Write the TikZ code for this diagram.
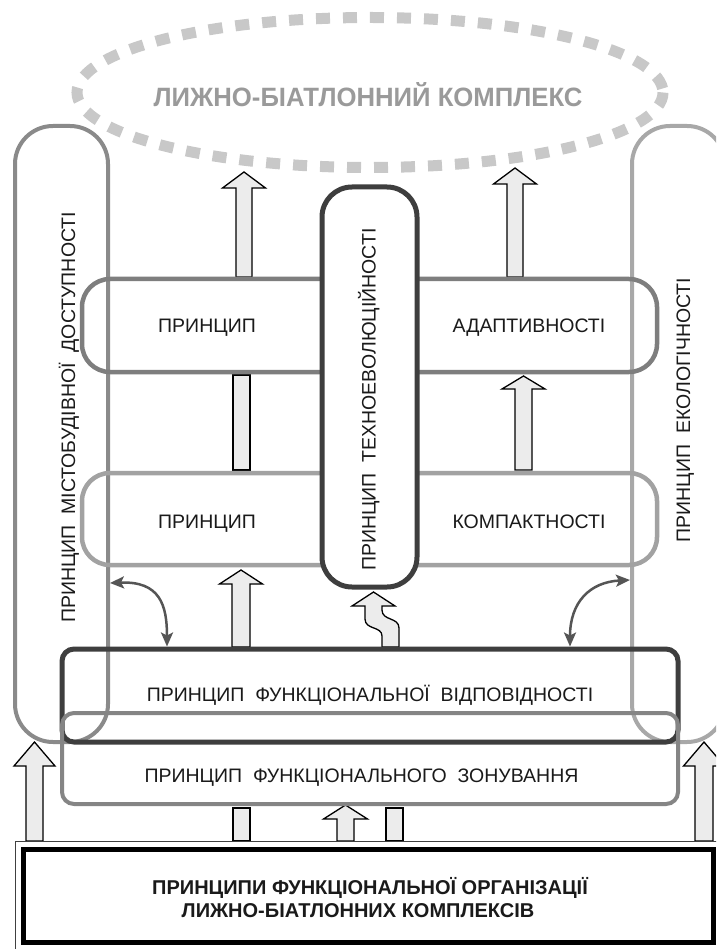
\documentclass[tikz,border=0pt]{standalone}
\usepackage{fontspec}
\setmainfont{Liberation Sans}
\newfontfamily\titlefont[FakeStretch=0.97]{Liberation Sans}
\usetikzlibrary{arrows.meta,calc}
\definecolor{dashgray}{HTML}{C8C8C8}
\definecolor{titlegray}{HTML}{9A9A9A}
\definecolor{leftgray}{HTML}{8A8A8A}
\definecolor{rightgray}{HTML}{A8A8A8}
\definecolor{bandA}{HTML}{7E7E7E}
\definecolor{bandB}{HTML}{A2A2A2}
\definecolor{darkline}{HTML}{3E3E3E}
\definecolor{zongray}{HTML}{858585}
\definecolor{arrfill}{HTML}{ECECEC}
\definecolor{curvegray}{HTML}{555555}
\definecolor{txt}{HTML}{1A1A1A}
\newcommand\fatup[5]{%
  \draw[fat] let \p1=(#1), \p2=(#2) in
    (\x1-#4,\y1) -- (\x1-#4,\y2-#3) -- (\x1-#5,\y2-#3) -- (\x1,\y2) --
    (\x1+#5,\y2-#3) -- (\x1+#4,\y2-#3) -- (\x1+#4,\y1) -- cycle;}
\begin{document}
\begin{tikzpicture}[x=1pt,y=-1pt,
  lbl/.style={font=\fontsize{19.5}{23}\selectfont, text=txt, inner sep=0pt, anchor=base},
  vlbl/.style={lbl, rotate=90},
  tallbox/.style={rounded corners=38, line width=4, minimum width=93, minimum height=616, inner sep=0pt},
  band/.style={rounded corners=28, line width=4.5, minimum width=575, inner sep=0pt},
  flatbox/.style={rounded corners=12, minimum width=616, inner sep=0pt},
  fat/.style={draw=black, fill=arrfill, line width=1.3, line join=miter},
  twoway/.style={draw=curvegray, line width=2.5, {Stealth[length=14, width=12, inset=3]}-{Stealth[length=14, width=12, inset=3]}}
]
\useasboundingbox (0,0) rectangle (716,949);
\clip (0,0) rectangle (716,949);
\fill[white] (0,0) rectangle (716,949);

% goal ellipse
\draw[dashgray, line width=11, dash pattern=on 14 off 13] (370,92.5) ellipse [x radius=293, y radius=75];
\node[font=\titlefont\fontsize{26.5}{30}\selectfont\bfseries, text=titlegray, inner sep=0pt, anchor=base] (goal) at (368,107) {ЛИЖНО-БІАТЛОННИЙ КОМПЛЕКС};

% named end points of the block arrows
\coordinate (a1s) at (244,277);   \coordinate (a1t) at (244,172);
\coordinate (a2s) at (515,277);   \coordinate (a2t) at (515,168);
\coordinate (a4s) at (523.5,470); \coordinate (a4t) at (523.5,376);
\coordinate (a5s) at (241,647);   \coordinate (a5t) at (241,570);
\coordinate (a7s) at (345.5,841); \coordinate (a7t) at (345.5,805);
\coordinate (a8s) at (34.5,841);  \coordinate (a8t) at (34.5,742);
\coordinate (a9s) at (704,841);   \coordinate (a9t) at (704,742);

\fatup{a1s}{a1t}{16}{8}{21.5}
\fatup{a2s}{a2t}{16}{8}{21.5}
\fatup{a4s}{a4t}{13}{8.5}{21.5}
\fatup{a5s}{a5t}{14}{9}{21.5}
\fatup{a7s}{a7t}{14}{8.5}{22}
\fatup{a8s}{a8t}{24}{8.5}{20.5}
\fatup{a9s}{a9t}{24}{9}{20.5}
% plain bars
\draw[fat] (233,375) rectangle (250,470);
\draw[fat] (233,808) rectangle (250,841);
\draw[fat] (386,808) rectangle (403,841);
% wavy arrow
\draw[fat] (382,647) -- (382,636) .. controls (382,626) and (365,630) .. (365,619) -- (365,606)
  -- (352,606) -- (373.5,592) -- (395,606) -- (382,606) -- (382,610)
  .. controls (382,621) and (399,617) .. (399,628) -- (399,647) -- cycle;

% tall side boxes
\node[tallbox, draw=leftgray] (mist) at (61.5,434) {};
\node[tallbox, draw=rightgray] (ekol) at (678.5,434) {};

% horizontal bands
\node[band, draw=bandA, minimum height=93] (adapt) at (369.5,325.5) {};
\node[band, draw=bandB, minimum height=92] (komp) at (369.5,519) {};

% central tall box
\node[draw=darkline, fill=white, line width=5, rounded corners=30, minimum width=95, minimum height=400, inner sep=0pt] (tech) at (369.5,387) {};

% functional boxes
\node[flatbox, draw=darkline, line width=5, minimum height=93] (vidp) at (370,695.5) {};
\node[flatbox, draw=zongray, line width=4, minimum height=91] (zon) at (370,758.5) {};

% base box
\draw[black!75, line width=1] (15,960) -- (15,841) -- (730,841);
\node[draw=black, line width=5, minimum width=690, minimum height=93, inner sep=0pt] (base) at (368,895.5) {};

% two-way curved arrows
\draw[twoway] (mist.east |- 0,583) .. controls (160,581) and (167,605) .. (vidp.north -| 167,0);
\draw[twoway] (vidp.north -| 570,0) .. controls (570,602) and (590,582) .. (ekol.west |- 0,580);

% labels
\node[vlbl] (tmist) at (75,417.5) {ПРИНЦИП\ \ МІСТОБУДІВНОЇ\ \ ДОСТУПНОСТІ};
\node[vlbl] (tekol) at (690,410) {ПРИНЦИП\ \ ЕКОЛОГІЧНОСТІ};
\node[vlbl] (ttech) at (375.5,399.5) {ПРИНЦИП\ \ ТЕХНОЕВОЛЮЦІЙНОСТІ};
\node[lbl] (ta1) at (207,332) {ПРИНЦИП};
\node[lbl] (ta2) at (529,332) {АДАПТИВНОСТІ};
\node[lbl] (tk1) at (207,528) {ПРИНЦИП};
\node[lbl] (tk2) at (529,528) {КОМПАКТНОСТІ};
\node[lbl] (tvidp) at (370,701) {ПРИНЦИП\ \ ФУНКЦІОНАЛЬНОЇ\ \ ВІДПОВІДНОСТІ};
\node[lbl] (tzon) at (361.5,782) {ПРИНЦИП\ \ ФУНКЦІОНАЛЬНОГО\ \ ЗОНУВАННЯ};
\node[lbl, font=\fontsize{20}{23}\selectfont\bfseries] (tb1) at (370,894) {ПРИНЦИПИ ФУНКЦІОНАЛЬНОЇ ОРГАНІЗАЦІЇ};
\node[lbl, font=\fontsize{20}{23}\selectfont\bfseries] (tb2) at (358,917) {ЛИЖНО-БІАТЛОННИХ КОМПЛЕКСІВ};
\end{tikzpicture}
\end{document}
